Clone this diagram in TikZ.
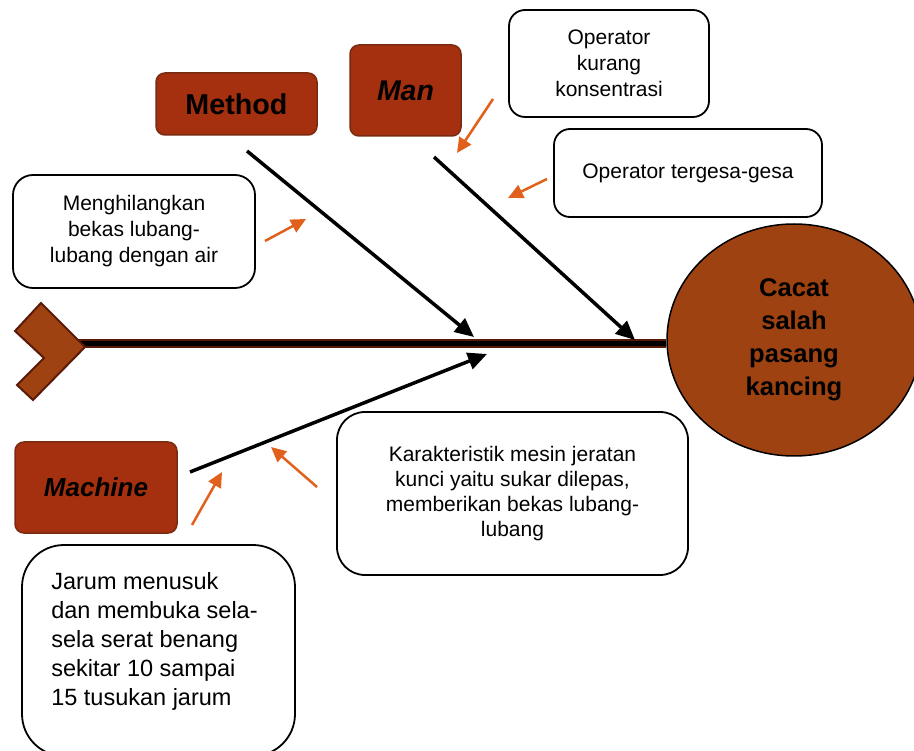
\documentclass[tikz,border=0pt]{standalone}
\usepackage{fontspec}
\setmainfont{Liberation Sans}
\usetikzlibrary{arrows.meta, positioning, shapes.geometric}

\definecolor{boxbrown}{HTML}{A5300F}
\definecolor{boxedge}{HTML}{7A2A10}
\definecolor{headbrown}{HTML}{9E4212}
\definecolor{headedge}{HTML}{5A1A08}
\definecolor{hintorange}{HTML}{E0601C}

\tikzset{
    category/.style={draw=boxedge, fill=boxbrown, line width=1.5pt, rounded corners=9pt,
        inner sep=0pt, font=\fontsize{28.7}{32}\selectfont\bfseries},
    note/.style={draw=black, fill=white, line width=1.8pt, rounded corners=18pt,
        inner sep=0pt, align=center, font=\fontsize{21}{26}\selectfont},
    bone/.style={line width=3.5pt, -{Triangle[length=19pt, width=17pt]}},
    hint/.style={draw=hintorange, line width=2.5pt, -{Triangle[length=15pt, width=14pt]}},
}

\begin{document}
\begin{tikzpicture}[x=1pt, y=-1pt]
    \useasboundingbox (0,0) rectangle (914,751);

    % Head of the fish
    \node[ellipse, draw=black, fill=headbrown, line width=1.5pt, minimum width=254pt,
        minimum height=232pt, inner sep=0pt, align=center,
        font=\fontsize{25.6}{33}\selectfont\bfseries] (effect) at (794,340)
        {Cacat\\salah\\pasang\\kancing};

    % Spine and tail
    \coordinate (spineStart) at (70,343.5);
    \draw[headedge, line width=9pt] (spineStart) -- (effect.west |- spineStart);
    \draw[black, line width=5pt] (spineStart) -- (effect.west |- spineStart);
    \filldraw[fill=headbrown, draw=headedge, line width=2pt, line join=miter]
        (41,303) -- (85,347) -- (33,400) -- (17,385) -- (44,358) -- (15,331) -- cycle;

    % Categories
    \node[category, minimum width=161pt, minimum height=62pt] (method) at (236.5,104) {Method};
    \node[category, minimum width=111pt, minimum height=91pt,
        font=\fontsize{28.5}{32}\selectfont\bfseries\itshape] (man) at (405.5,90.5) {Man};
    \node[category, minimum width=162pt, minimum height=91pt,
        font=\fontsize{26}{30}\selectfont\bfseries\itshape] (machine) at (96,487.5) {Machine};

    % Bones
    \coordinate (methodTail) at (247,151);
    \coordinate (methodTip) at (474,337);
    \coordinate (manTail) at (434,157);
    \coordinate (manTip) at (635,340);
    \coordinate (machineTail) at (190,472);
    \coordinate (machineTip) at (487,354);
    \draw[bone] (methodTail) -- (methodTip);
    \draw[bone] (manTail) -- (manTip);
    \draw[bone] (machineTail) -- (machineTip);

    % Causes
    \node[note, minimum width=200pt, minimum height=107pt, rounded corners=16pt] (opKurang)
        at (609,63.5) {Operator\\kurang\\konsentrasi};
    \node[note, minimum width=268pt, minimum height=88pt, rounded corners=16pt] (opTergesa)
        at (688,173) {Operator tergesa-gesa};
    \node[note, minimum width=242pt, minimum height=113pt, rounded corners=20pt] (hilang)
        at (134,231.5) {Menghilangkan\\bekas lubang-\\lubang dengan air};
    \node[note, minimum width=351pt, minimum height=163pt, rounded corners=28pt,
        font=\fontsize{21}{25}\selectfont] (karakter) at (512.5,493.5)
        {Karakteristik mesin jeratan\\kunci yaitu sukar dilepas,\\memberikan bekas lubang-\\lubang};
    \node[note, minimum width=273pt, minimum height=211pt, rounded corners=42pt] (jarum)
        at (158.5,650.5) {};
    \node[anchor=west, align=left, inner sep=0pt, font=\fontsize{23.5}{29}\selectfont]
        (jarumText) at ([xshift=30pt, yshift=9.5pt]jarum.west)
        {Jarum menusuk\\dan membuka sela-\\sela serat benang\\sekitar 10 sampai\\15 tusukan jarum};

    % Pointers to the bones
    \coordinate (kurangFrom) at (493,99);
    \coordinate (kurangTo) at (457,153);
    \coordinate (tergesaFrom) at (547,179);
    \coordinate (tergesaTo) at (508,198);
    \coordinate (hilangFrom) at (265,241);
    \coordinate (hilangTo) at (306,219);
    \coordinate (jarumFrom) at (192,525);
    \coordinate (jarumTo) at (222,472);
    \coordinate (karakterFrom) at (317,487);
    \coordinate (karakterTo) at (271,447);
    \draw[hint] (kurangFrom) -- (kurangTo);
    \draw[hint] (tergesaFrom) -- (tergesaTo);
    \draw[hint] (hilangFrom) -- (hilangTo);
    \draw[hint] (jarumFrom) -- (jarumTo);
    \draw[hint] (karakterFrom) -- (karakterTo);
\end{tikzpicture}
\end{document}
